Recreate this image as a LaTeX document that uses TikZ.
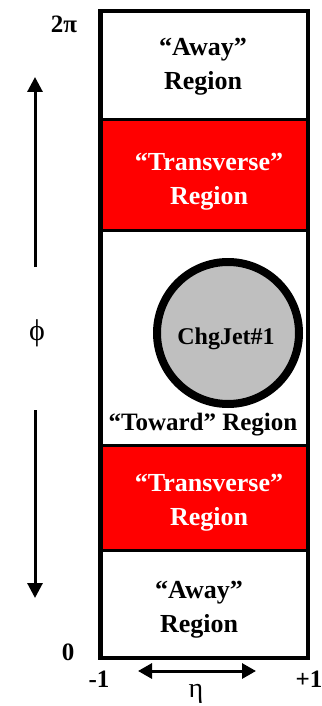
\documentclass[tikz,border=0pt]{standalone}
\usepackage{fontspec}
\setmainfont{Liberation Serif}
\usetikzlibrary{arrows.meta}

\tikzset{
  band/.style={draw, line width=3pt, minimum width=206pt, inner sep=0pt},
  redband/.style={band, fill=red},
  bandtext/.style={font=\fontsize{26}{34}\selectfont\bfseries, align=center, inner sep=0pt},
  lbl/.style={font=\fontsize{25}{27}\selectfont\bfseries, inner sep=0pt},
  axis/.style={line width=3pt, -{Triangle[length=15pt,width=15pt]}}
}

\begin{document}
\begin{tikzpicture}[x=1pt,y=-1pt]
  \useasboundingbox (0,0) rectangle (321,706);
  % the five phi bands
  \node[band, minimum height=108pt] (away1) at (204,66) {};
  \node[redband, minimum height=110pt] (trans1) at (204,175) {};
  \node[band, minimum height=215pt] (toward) at (204,337.5) {};
  \node[redband, minimum height=105pt] (trans2) at (204,497.5) {};
  \node[band, minimum height=107pt] (away2) at (204,603.5) {};
  \draw[line width=3.5pt] (away1.north west) rectangle (away2.south east);
  \node[bandtext] (away1txt) at (203,67) {``Away''\\Region};
  \node[bandtext, text=white] (trans1txt) at (209,182) {``Transverse''\\Region};
  \node[bandtext, text=white] (trans2txt) at (209,503) {``Transverse''\\Region};
  \node[bandtext] (away2txt) at (199,610) {``Away''\\Region};
  % jet in the toward region
  \node[circle, draw, line width=8pt, fill=black!25, minimum size=142pt] (jet) at (228,333) {};
  \node[font=\fontsize{24}{26}\selectfont\bfseries, inner sep=0pt] (jettxt) at (226,339) {ChgJet\#1};
  \node[font=\fontsize{25}{27}\selectfont\bfseries, inner sep=0pt] (twd) at (203,425) {``Toward'' Region};
  % phi axis
  \node[font=\fontsize{30}{32}\selectfont] (phi) at (37,333) {ϕ};
  \coordinate (phiup) at (35,267);
  \coordinate (phitop) at (35,77);
  \coordinate (phidn) at (35,410);
  \coordinate (phibot) at (35,598);
  \draw[axis] (phiup) -- (phitop);
  \draw[axis] (phidn) -- (phibot);
  \node[lbl] (twopi) at (64,24) {2π};
  \node[lbl] (zero) at (68,652) {0};
  % eta axis
  \node[lbl] (mone) at (99,679) {-1};
  \node[lbl] (pone) at (309,679) {+1};
  \coordinate (etal) at (138,671);
  \coordinate (etar) at (256,671);
  \draw[line width=3pt, {Triangle[length=14pt,width=15pt]}-{Triangle[length=14pt,width=15pt]}] (etal) -- (etar);
  \node[font=\fontsize{28}{30}\selectfont] (eta) at (196,694) {η};
\end{tikzpicture}
\end{document}
